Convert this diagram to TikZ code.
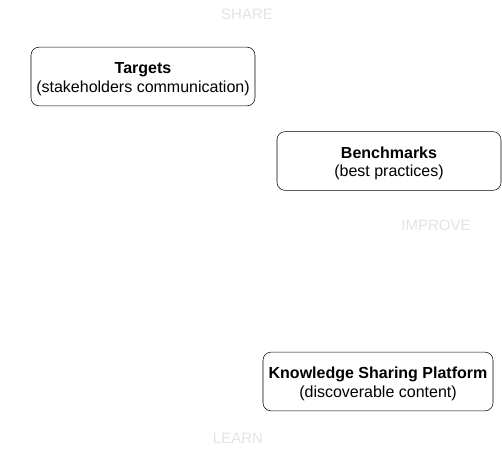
\documentclass[tikz,border=0pt]{standalone}
\usepackage{fontspec}
\setmainfont{Liberation Sans}
\definecolor{labelgrey}{HTML}{E3E3E3}
\newcommand{\boxtext}[2]{\rule{0pt}{12.5pt}\textbf{#1}\\#2}
\begin{document}
\begin{tikzpicture}[x=.75pt,y=-.75pt,
  box/.style={draw,rounded corners=6pt,align=center,inner sep=0pt,minimum height=44pt,font=\fontsize{12}{13.8}\selectfont},
  steplabel/.style={text=labelgrey,font=\fontsize{11.25}{13}\selectfont}]
  \useasboundingbox (0,0) rectangle (502,453);
  \node[box,minimum width=168pt] (targets) at (143,76.5) {\boxtext{Targets}{(stakeholders communication)}};
  \node[box,minimum width=168pt] (bench) at (389,161) {\boxtext{Benchmarks}{(best practices)}};
  \node[box,minimum width=172.5pt] (ksp) at (378,381.5) {\boxtext{Knowledge Sharing Platform}{(discoverable content)}};
  \node[steplabel] (share) at (247,14) {SHARE}; \node[steplabel] (improve) at (436,225) {IMPROVE}; \node[steplabel] (learn) at (238,438) {LEARN};
\end{tikzpicture}
\end{document}
